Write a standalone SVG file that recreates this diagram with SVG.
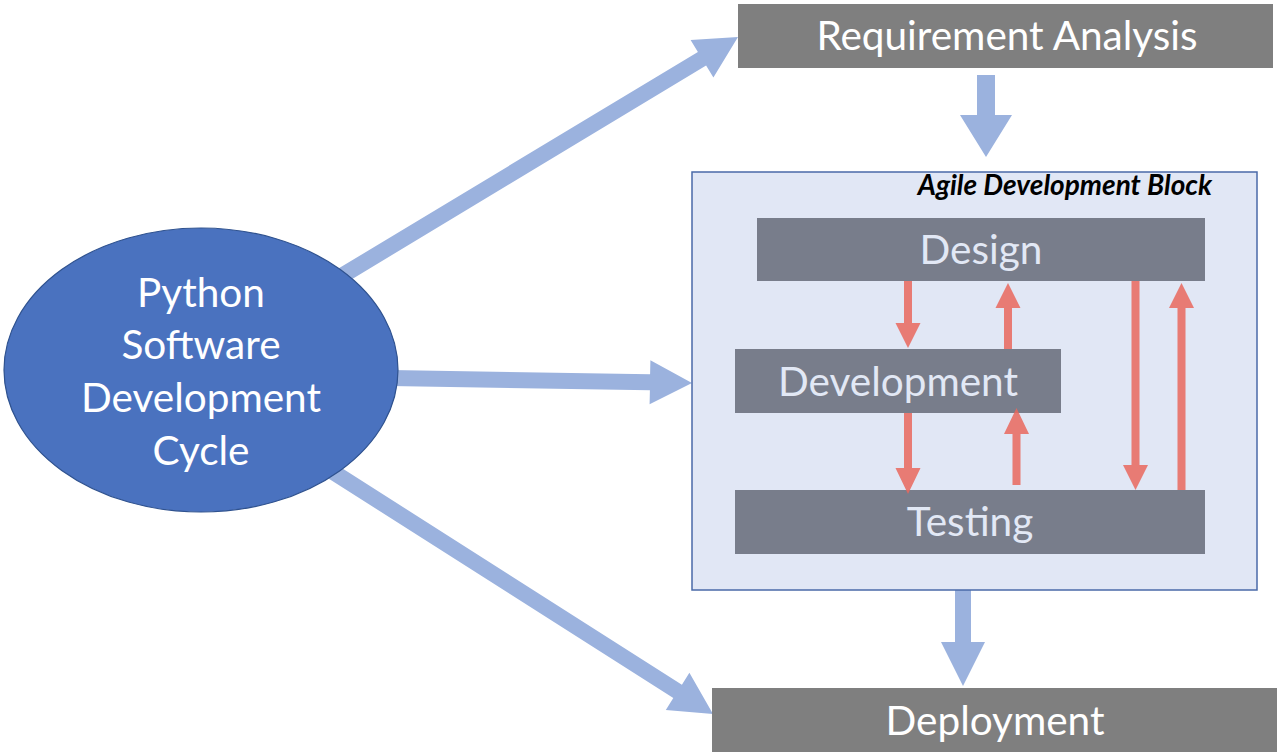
<svg xmlns="http://www.w3.org/2000/svg" width="1279" height="756" viewBox="0 0 1279 756">
<style>
.outer{fill:#7f7f7f}
.inner{fill:#787d8b}
.blue{fill:#9bb2de}
.red{fill:#e9675d;fill-opacity:0.85}
.t{font-family:Lato,"Liberation Sans",sans-serif;text-anchor:middle}
.tw{fill:#ffffff;font-size:40.5px}
.ti{fill:#e2e8f5;font-size:40.5px}
</style>
<rect width="1279" height="756" fill="#ffffff"/>
<g id="connectors">
<polygon class="blue" points="334.1,289.9 706.1,65.5 713.4,77.5 738,37 690.6,39.9 697.9,51.9 325.9,276.1"/>
<polygon class="blue" points="389.9,386 649.9,390.3 649.6,404.3 692,383 650.4,360.3 650.1,374.3 390.1,370"/>
<polygon class="blue" points="325.7,476.7 673.3,698.1 665.8,710 713,714 689.4,672.8 681.9,684.7 334.3,463.3"/>
<polygon class="blue" points="977,75 995,75 995,115 1012,115 986,157 960,115 977,115"/>
<polygon class="blue" points="955,589 971,589 971,642 985,642 963,686 941,642 955,642"/>
</g>
<g id="cycle">
<ellipse cx="201" cy="370" rx="197" ry="142" fill="#4a72bf" stroke="#2f528f" stroke-width="1.2"/>
<text class="t tw" x="201" y="307">Python</text>
<text class="t tw" x="201" y="359">Software</text>
<text class="t tw" x="201" y="412">Development</text>
<text class="t tw" x="201" y="465">Cycle</text>
</g>
<g id="requirement">
<rect class="outer" x="738" y="4" width="535" height="64"/>
<text class="t tw" x="1007" y="50">Requirement Analysis</text>
</g>
<g id="agile">
<rect x="692" y="172" width="565" height="418" fill="#e1e7f5" stroke="#4a6aa8" stroke-width="1.5"/>
<text x="1212" y="195" font-family="Lato,'Liberation Sans',sans-serif" font-size="28" font-weight="bold" font-style="italic" text-anchor="end" fill="#000000">Agile Development Block</text>
</g>
<g id="design">
<rect class="inner" x="757" y="218" width="448" height="63"/>
<text class="t ti" x="981" y="264">Design</text>
</g>
<g id="development">
<rect class="inner" x="735" y="349" width="326" height="64"/>
<text class="t ti" x="898" y="396">Development</text>
</g>
<g id="testing">
<rect class="inner" x="735" y="490" width="470" height="64"/>
<text class="t ti" x="970" y="536">Testing</text>
</g>
<g id="deployment">
<rect class="outer" x="712" y="688" width="565" height="64"/>
<text class="t tw" x="995" y="735">Deployment</text>
</g>
<g id="agile-connectors">
<polygon class="red" points="904,281 912,281 912,323 920.5,323 908,348 895.5,323 904,323"/>
<polygon class="red" points="1004,349 1012,349 1012,308 1020.5,308 1008,283 995.5,308 1004,308"/>
<polygon class="red" points="904,413 912,413 912,468 920.5,468 908,494 895.5,468 904,468"/>
<polygon class="red" points="1012.5,485 1020.5,485 1020.5,434 1029,434 1016.5,408 1004,434 1012.5,434"/>
<polygon class="red" points="1131.5,281 1139.5,281 1139.5,465 1148,465 1135.5,490 1123,465 1131.5,465"/>
<polygon class="red" points="1177.5,490 1185.5,490 1185.5,308 1194,308 1181.5,283 1169,308 1177.5,308"/>
</g>
</svg>
